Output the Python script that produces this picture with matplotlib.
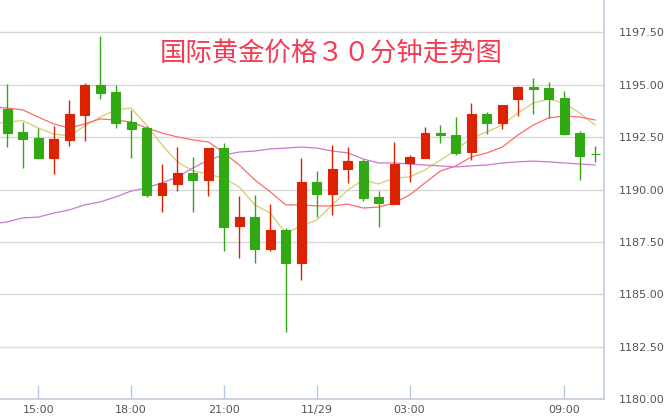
import matplotlib
matplotlib.use("Agg")
import matplotlib.pyplot as plt
import numpy as np

# 30 分钟 K 线 (开, 收, 高, 低)
opens  = [1193.84, 1192.75, 1192.46, 1191.51, 1192.37, 1193.56, 1194.99, 1194.65, 1193.22, 1192.94,
          1189.74, 1190.27, 1190.79, 1190.46, 1191.98, 1188.26, 1188.69, 1187.17, 1188.07, 1186.50,
          1190.36, 1189.79, 1190.98, 1191.36, 1189.65, 1189.31, 1191.27, 1191.51, 1192.70, 1192.60,
          1191.79, 1193.61, 1193.18, 1194.32, 1194.89, 1194.85, 1194.37, 1192.70, 1191.70]
closes = [1192.70, 1192.41, 1191.51, 1192.41, 1193.61, 1194.99, 1194.61, 1193.18, 1192.89, 1189.74,
          1190.31, 1190.79, 1190.46, 1191.98, 1188.22, 1188.69, 1187.17, 1188.07, 1186.50, 1190.36,
          1189.79, 1190.98, 1191.36, 1189.60, 1189.36, 1191.22, 1191.55, 1192.70, 1192.60, 1191.75,
          1193.61, 1193.18, 1194.03, 1194.89, 1194.80, 1194.32, 1192.65, 1191.60, 1191.70]
highs  = [1195.04, 1193.22, 1192.94, 1193.03, 1194.27, 1195.08, 1197.32, 1194.99, 1193.80, 1193.03,
          1191.22, 1192.03, 1191.55, 1191.98, 1192.22, 1189.69, 1189.74, 1189.31, 1188.17, 1191.51,
          1190.89, 1192.13, 1192.03, 1191.46, 1189.93, 1192.27, 1191.65, 1192.99, 1193.08, 1193.46,
          1194.13, 1193.70, 1194.03, 1194.94, 1195.32, 1195.13, 1194.70, 1192.79, 1192.08]
lows   = [1192.03, 1191.03, 1191.45, 1190.74, 1192.08, 1192.32, 1194.32, 1192.94, 1191.51, 1189.65,
          1188.93, 1189.93, 1188.93, 1189.69, 1187.07, 1186.74, 1186.50, 1187.07, 1183.21, 1185.69,
          1188.69, 1188.79, 1190.31, 1189.46, 1188.22, 1189.31, 1190.36, 1191.51, 1192.22, 1191.65,
          1191.41, 1192.65, 1192.89, 1193.51, 1193.61, 1193.41, 1192.60, 1190.46, 1191.32]

# 均线 (从左边缘前一根开始)
ma_short = [1193.13, 1193.22, 1193.29, 1192.94, 1192.65, 1192.56, 1193.03, 1193.46, 1193.80, 1193.89,
            1193.08, 1192.13, 1191.32, 1190.89, 1190.74, 1190.55, 1190.12, 1189.27, 1188.88, 1187.93,
            1188.26, 1188.55, 1189.27, 1189.98, 1190.46, 1190.27, 1190.55, 1190.60, 1190.94, 1191.41,
            1191.89, 1192.46, 1192.75, 1193.08, 1193.65, 1194.13, 1194.32, 1194.13, 1193.65, 1193.08]
ma_mid   = [1193.94, 1193.89, 1193.80, 1193.46, 1193.13, 1192.94, 1193.13, 1193.37, 1193.32, 1193.22,
            1192.94, 1192.70, 1192.51, 1192.37, 1192.27, 1191.75, 1191.17, 1190.46, 1189.89, 1189.27,
            1189.27, 1189.22, 1189.22, 1189.31, 1189.12, 1189.17, 1189.36, 1189.74, 1190.32, 1190.89,
            1191.13, 1191.56, 1191.75, 1192.03, 1192.60, 1193.08, 1193.42, 1193.51, 1193.46, 1193.32]
ma_long  = [1188.36, 1188.46, 1188.65, 1188.69, 1188.88, 1189.03, 1189.27, 1189.41, 1189.65, 1189.93,
            1190.08, 1190.32, 1190.60, 1191.03, 1191.41, 1191.65, 1191.79, 1191.84, 1191.94, 1191.98,
            1192.03, 1191.98, 1191.84, 1191.75, 1191.46, 1191.27, 1191.27, 1191.22, 1191.17, 1191.13,
            1191.08, 1191.13, 1191.17, 1191.27, 1191.32, 1191.36, 1191.32, 1191.27, 1191.22, 1191.17]

tick_idx    = [2, 8, 14, 20, 26, 36]
tick_labels = ["15:00", "18:00", "21:00", "11/29", "03:00", "09:00"]
y_ticks     = [1180, 1182.5, 1185, 1187.5, 1190, 1192.5, 1195, 1197.5]

UP, DOWN = "#dd2200", "#33a815"

fig = plt.figure(figsize=(6.72, 4.16), dpi=100)
ax = fig.add_axes([0, 0.0401, 604 / 672, 0.9599])

x = np.arange(len(opens))
o = np.array(opens); c = np.array(closes)
cols = [UP if cc > oo else DOWN for oo, cc in zip(o, c)]
ax.vlines(x, lows, highs, colors=cols, lw=1.0, zorder=4)
ax.bar(x, np.abs(c - o), bottom=np.minimum(o, c), width=0.58,
       color=cols, edgecolor=cols, linewidth=0.8, zorder=5)

xm = np.arange(-1, len(opens))
ax.plot(xm, ma_short, color="#d6cd70", lw=0.9, zorder=3)
ax.plot(xm, ma_mid, color="#ff6a6a", lw=0.9, zorder=3)
ax.plot(xm, ma_long, color="#c97ad0", lw=0.9, zorder=3)

ax.set_xlim(-0.472, 38.57)
ax.set_ylim(1180, 1199.04)

ax.yaxis.tick_right()
ax.set_yticks(y_ticks)
ax.set_yticklabels([f"{v:.2f}" for v in y_ticks])
ax.tick_params(axis="y", length=0, pad=11, labelsize=8, labelcolor="#555555")
ax.set_xticks(tick_idx)
ax.set_xticklabels(tick_labels)
ax.tick_params(axis="x", direction="in", length=10, width=1, color="#b8c8dc",
               pad=4, labelsize=8, labelcolor="#555555")
ax.grid(axis="y", color="#d8d8d8", lw=1)
ax.set_axisbelow(True)

for s in ["top", "left"]:
    ax.spines[s].set_visible(False)
for s in ["bottom", "right"]:
    ax.spines[s].set_color("#c0cddc")
    ax.spines[s].set_linewidth(1.2)

fig.text(0.493, 0.873, "国际黄金价格３０分钟走势图", color="#f53a52", fontsize=19,
         family=["Noto Sans CJK SC", "DejaVu Sans"], ha="center", va="center")

fig.savefig("out.png", dpi=100)
